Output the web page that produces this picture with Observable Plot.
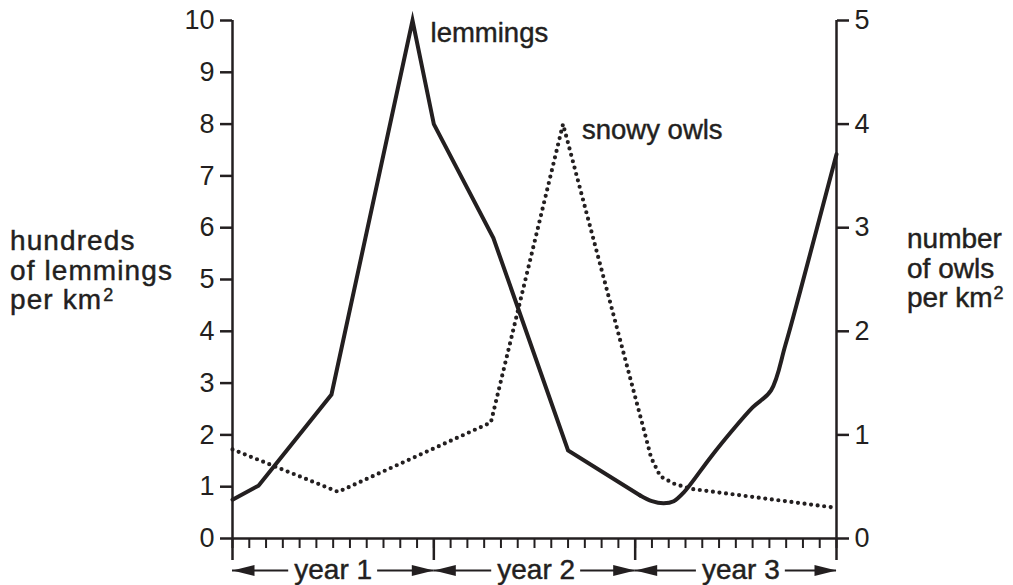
<!DOCTYPE html>
<html>
<head>
<meta charset="utf-8">
<script src="https://cdn.jsdelivr.net/npm/d3@7"></script>
<script src="https://cdn.jsdelivr.net/npm/@observablehq/plot@0.6"></script>
<style>
  html, body { margin: 0; padding: 0; background: #fff; }
  #wrap { position: relative; width: 1013px; height: 585px; font-family: "Liberation Sans", Arial, sans-serif; color: #231f20; }
  .lab { position: absolute; font-size: 28px; line-height: 29.5px; white-space: nowrap; -webkit-text-stroke: 0.45px #231f20; }
  .lab div { height: 29.5px; }
  .lab sup { font-size: 18px; line-height: 0; vertical-align: 0; position: relative; top: -8px; margin-left: 1px; }
</style>
</head>
<body>
<div id="wrap">
  <div class="lab" style="left:10px; top:226px; letter-spacing:1.1px;"><div>hundreds</div><div>of lemmings</div><div>per km<sup>2</sup></div></div>
  <div class="lab" style="left:907px; top:224px;"><div>number</div><div>of owls</div><div>per km<sup>2</sup></div></div>
</div>
<script>
// ---- data (months from start of year 1) ----
const lemmingMonths = [0, 1.55, 5.9, 10.73, 12.0, 15.55, 20.0, 24.3, 25.0, 25.7, 26.3, 26.9, 28.5, 29.7, 31.0, 32.1, 32.95, 33.85, 36];
const lemmingValues = [0.75, 1.02, 2.78, 10.0, 8.0, 5.8, 1.7, 0.83, 0.72, 0.68, 0.72, 0.89, 1.57, 2.05, 2.53, 2.86, 3.73, 4.79, 7.42];
const owlMonths = [0, 6.3, 15.4, 19.7, 24.6, 24.95, 25.5, 26.3, 27.3, 35.8];
const owlValues = [0.86, 0.45, 1.12, 4.0, 1.0, 0.78, 0.6, 0.53, 0.48, 0.30];
const leftTicks = [0, 1, 2, 3, 4, 5, 6, 7, 8, 9, 10];
const rightTicks = [0, 1, 2, 3, 4, 5];
const monthTicks = d3.range(0, 37);
const yearStarts = [0, 12, 24, 36];
const yearNames = ["year 1", "year 2", "year 3"];
const yearCenters = [6, 18.1, 30.3];
const seriesLabels = ["lemmings", "snowy owls"];

const OWL_FACTOR = 2; // right axis 0..5 maps onto left 0..10
const INK = "#231f20";
const lemmings = lemmingMonths.map((m, i) => ({month: m, value: lemmingValues[i]}));
const owls = owlMonths.map((m, i) => ({month: m, value: owlValues[i] * OWL_FACTOR}));
// straight segments up to month 24.3, smooth trough and recovery afterwards
const splitAt = lemmingMonths.indexOf(24.3);
const lemmingsStraight = lemmings.slice(0, splitAt + 1);
const lemmingsSmooth = lemmings.slice(splitAt);

const years = yearNames.map((name, i) => ({name, start: yearStarts[i], end: yearStarts[i + 1], center: yearCenters[i]}));
const halfGap = 2.65;
const arrowLines = years.flatMap(y => [
  {x1: y.start, x2: y.center - halfGap},
  {x1: y.center + halfGap, x2: y.end}
]);
const arrowHeads = years.flatMap(y => [
  {x: y.start, rot: 180},
  {x: y.end, rot: 0}
]);
// narrow filled triangle whose tip is at the anchor point, pointing right
const headSymbol = {
  draw(ctx) {
    ctx.moveTo(0, 0);
    ctx.lineTo(-22, -5.5);
    ctx.lineTo(-22, 5.5);
    ctx.closePath();
  }
};

const peakL = lemmings.reduce((a, b) => (b.value > a.value ? b : a));
const peakO = owls.reduce((a, b) => (b.value > a.value ? b : a));

const font = "Liberation Sans, Arial, sans-serif";
const txt = {fill: INK, stroke: INK, strokeWidth: 0.45};
const chart = Plot.plot({
  width: 1013,
  height: 585,
  marginLeft: 232,
  marginRight: 177,
  marginTop: 20,
  marginBottom: 47,
  style: {fontFamily: font, color: INK, background: "transparent", overflow: "visible"},
  x: {domain: [0, 36]},
  y: {domain: [0, 10]},
  marks: [
    Plot.axisY({anchor: "left", ticks: leftTicks, tickSize: 12, tickPadding: 6, fontSize: 27, strokeWidth: 2.5, label: null, stroke: INK, fill: INK}),
    Plot.axisY({anchor: "right", ticks: rightTicks.map(d => d * OWL_FACTOR), tickFormat: d => d / OWL_FACTOR, tickSize: 12, tickPadding: 6, fontSize: 27, strokeWidth: 2.5, label: null, stroke: INK, fill: INK}),
    Plot.axisX({ticks: monthTicks, tickSize: 10, tickFormat: () => "", strokeWidth: 2, label: null, stroke: INK}),
    Plot.axisX({ticks: yearStarts, tickSize: 22, tickFormat: () => "", strokeWidth: 2.5, label: null, stroke: INK}),
    Plot.ruleX(yearStarts.filter(d => d === 0 || d === 36), {stroke: INK, strokeWidth: 2.5}),
    Plot.ruleY([0], {stroke: INK, strokeWidth: 2.5}),
    Plot.line(owls, {x: "month", y: "value", stroke: INK, strokeWidth: 4.2, strokeLinecap: "round", strokeDasharray: "0 6.6"}),
    Plot.line(lemmingsStraight, {x: "month", y: "value", stroke: INK, strokeWidth: 4, strokeLinejoin: "miter", strokeMiterlimit: 10}),
    Plot.line(lemmingsSmooth, {x: "month", y: "value", stroke: INK, strokeWidth: 4, curve: "catmull-rom"}),
    Plot.text([peakL], {x: "month", y: "value", text: () => seriesLabels[0], dx: 18, dy: 13, textAnchor: "start", fontSize: 27.5, ...txt}),
    Plot.text([peakO], {x: "month", y: "value", text: () => seriesLabels[1], dx: 19, dy: 6, textAnchor: "start", fontSize: 27.5, ...txt}),
    Plot.ruleY(arrowLines, {y: () => 0, x1: "x1", x2: "x2", dy: 32, stroke: INK, strokeWidth: 2}),
    Plot.dot(arrowHeads, {x: "x", y: () => 0, dy: 32, symbol: headSymbol, rotate: "rot", fill: INK, stroke: "none"}),
    Plot.text(years, {x: "center", frameAnchor: "bottom", lineAnchor: "middle", dy: 32, text: "name", fontSize: 28, ...txt})
  ]
});
document.getElementById("wrap").prepend(chart);
</script>
</body>
</html>
